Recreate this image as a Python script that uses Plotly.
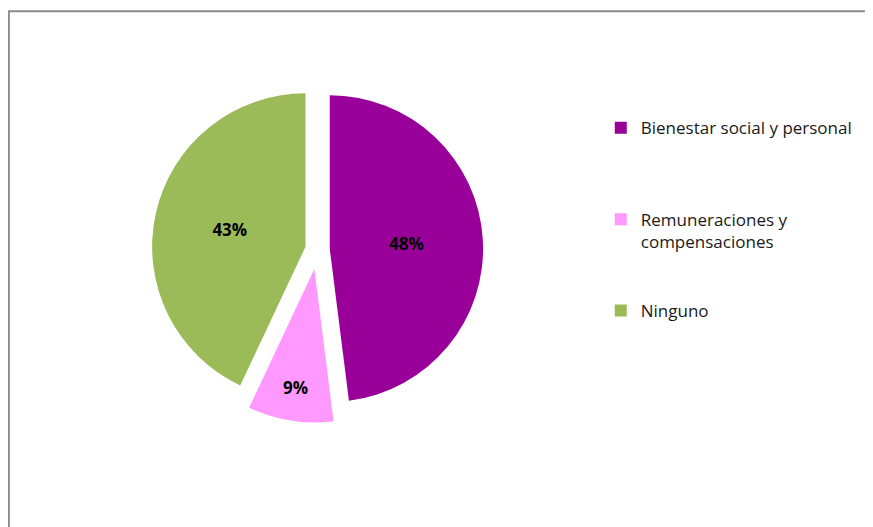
import plotly.graph_objects as go

categories = ["Bienestar social y personal", "Remuneraciones y<br>compensaciones", "Ninguno"]
values = [48, 9, 43]
colors = ["#990099", "#FF99FF", "#9BBB59"]
pulls = [0.08, 0.13, 0.08]

# extra blank lines give the legend its wide spacing (marker aligned to top line)
pad_lines = [3, 2, 0]
legend_labels = [c + "<br> " * n for c, n in zip(categories, pad_lines)]

fig = go.Figure(go.Pie(
    labels=legend_labels,
    values=values,
    sort=False,
    direction="clockwise",
    rotation=0,
    pull=pulls,
    marker=dict(colors=colors, line=dict(width=0)),
    texttemplate="<b>%{percent:.0%}</b>",
    textposition="inside",
    insidetextorientation="horizontal",
    textfont=dict(family="Open Sans, Lato, sans-serif", size=17, color="#000000"),
    hoverinfo="value+percent",
    domain=dict(x=[0.156, 0.553], y=[0.202, 0.882]),
))

fig.update_layout(
    width=873, height=527,
    margin=dict(l=0, r=0, t=0, b=0),
    paper_bgcolor="white",
    plot_bgcolor="white",
    showlegend=True,
    uniformtext=dict(minsize=17, mode="show"),
    legend=dict(
        x=0.679, y=0.806, xanchor="left", yanchor="top",
        valign="top",
        font=dict(family="Open Sans, Lato, sans-serif", size=17, color="#1a1a1a"),
        bgcolor="rgba(0,0,0,0)",
    ),
    shapes=[dict(
        type="rect", xref="paper", yref="paper",
        x0=0.001, x1=1.05, y0=-0.05, y1=0.994,
        line=dict(color="#8c8c8c", width=2),
        fillcolor="rgba(0,0,0,0)",
    )],
)

fig.write_html("out.html")
